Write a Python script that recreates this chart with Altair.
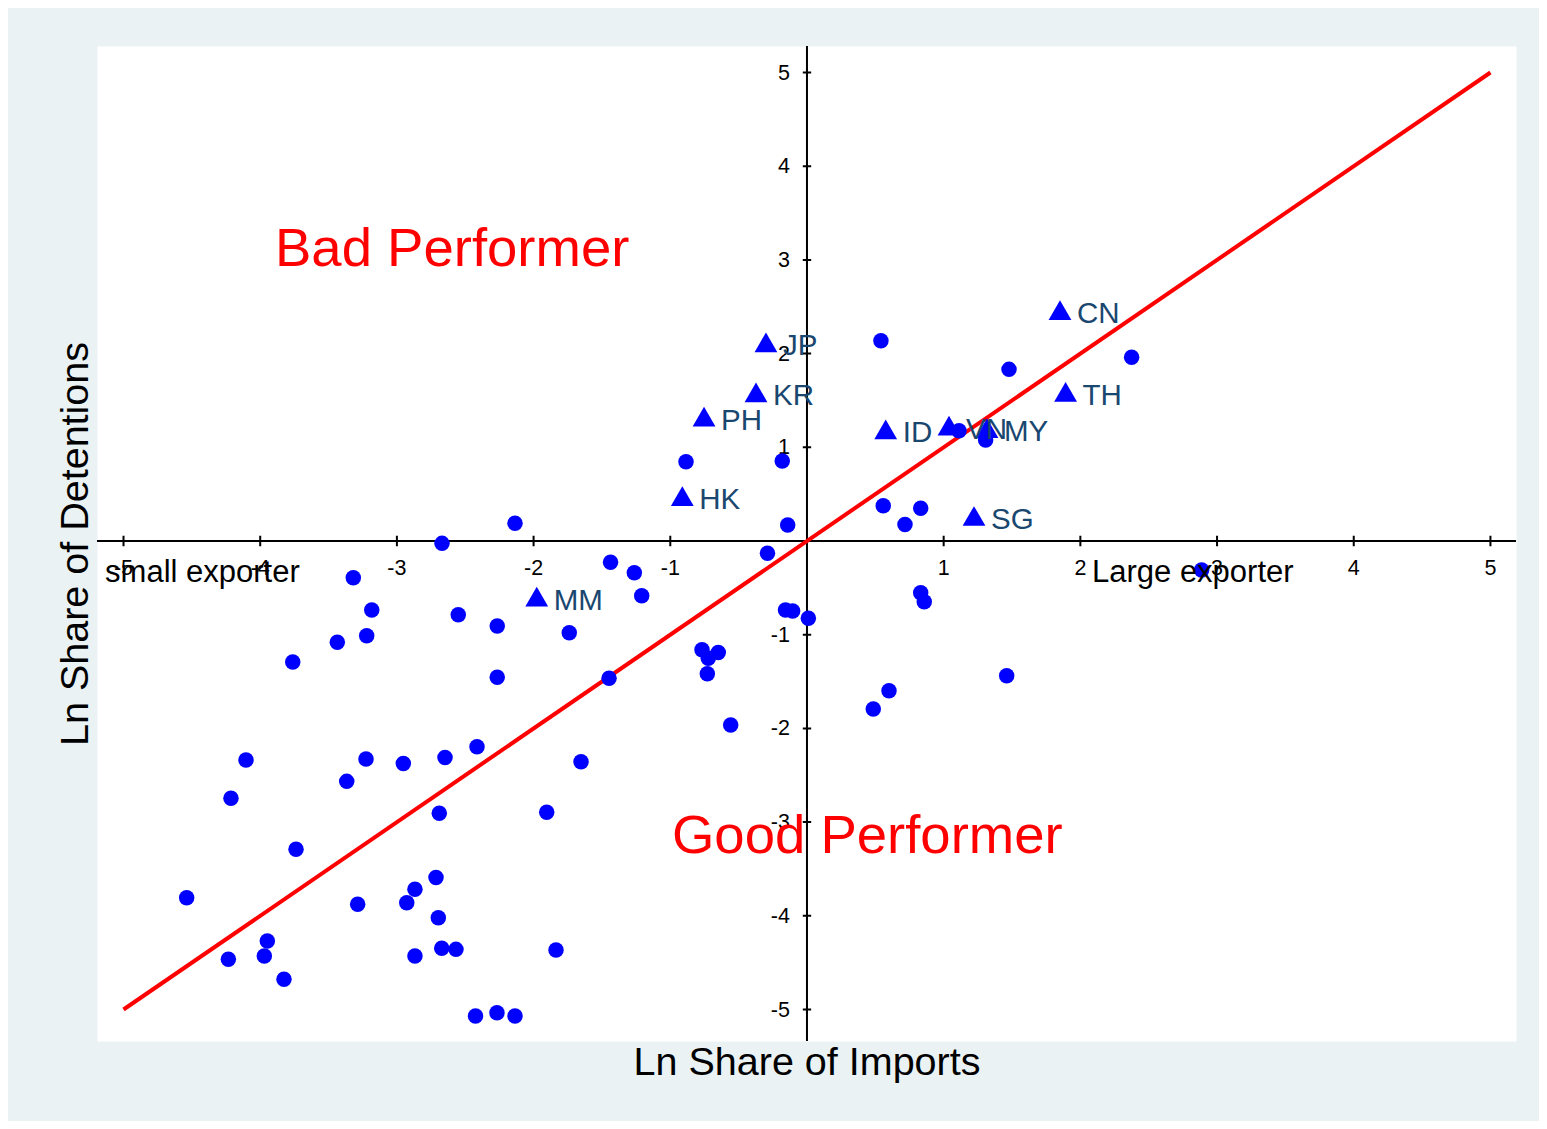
import altair as alt
import pandas as pd

# ---- data ----
circle_x = [-2.136, -2.670, -3.319, -3.184, -2.551, -2.266, -1.739, -3.436, -3.221, -3.762,
            -2.266, -0.885, -0.181, -0.141, -0.289, -1.437, -1.263, -1.209, 0.541, 1.478,
            2.375, 1.112, 1.307, 0.558, 0.832, 0.717, -0.157, -0.105, 0.010, 0.832,
            0.858, 1.461, 0.600, 0.485, 2.887, -1.448, -0.768, -0.649, -0.722, -0.729,
            -0.558, -2.414, -2.648, -2.953, -1.653, -2.690, -1.904, -2.714, -2.868, -2.928,
            -2.697, -2.868, -2.672, -2.568, -1.836, -2.425, -2.268, -2.136, -4.104, -4.214,
            -3.226, -3.367, -3.738, -4.538, -3.287, -3.948, -3.970, -4.233, -3.826]
circle_y = [0.189, -0.025, -0.392, -0.736, -0.787, -0.907, -0.979, -1.081, -1.011, -1.291,
            -1.455, 0.846, 0.854, 0.171, -0.131, -0.227, -0.338, -0.584, 2.138, 1.832,
            1.961, 1.177, 1.078, 0.377, 0.349, 0.176, -0.736, -0.747, -0.825, -0.552,
            -0.648, -1.438, -1.598, -1.793, -0.309, -1.465, -1.160, -1.190, -1.252, -1.416,
            -1.964, -2.195, -2.311, -2.375, -2.355, -2.906, -2.895, -3.591, -3.717, -3.860,
            -4.020, -4.429, -4.347, -4.358, -4.365, -5.069, -5.034, -5.069, -2.337, -2.746,
            -2.327, -2.565, -3.290, -3.807, -3.877, -4.269, -4.429, -4.464, -4.678]

country_codes = ["CN", "JP", "KR", "PH", "HK", "MM", "ID", "VN", "MY", "TH", "SG"]
country_x = [1.851, -0.300, -0.373, -0.753, -0.912, -1.977, 0.576, 1.039, 1.317, 1.892, 1.222]
country_y = [2.465, 2.121, 1.587, 1.327, 0.480, -0.594, 1.192, 1.231, 1.206, 1.593, 0.267]

x_ticks = [-5, -4, -3, -2, -1, 1, 2, 3, 4, 5]
y_ticks = [-5, -4, -3, -2, -1, 1, 2, 3, 4, 5]
diag_x = [-5, 5]
diag_y = [-5, 5]

FONT = "Liberation Sans"
xs = alt.Scale(domain=[-5.194, 5.187], nice=False, zero=False)
ys = alt.Scale(domain=[-5.336, 5.283], nice=False, zero=False)

AXX = alt.Axis(title="Ln Share of Imports", labels=False, ticks=False, domain=False, grid=False,
               titleFont=FONT, titleFontSize=39.5, titleFontWeight="normal", titleColor="black",
               titlePadding=33, titleBaseline="alphabetic")
AXY = alt.Axis(title="Ln Share of Detentions", labels=False, ticks=False, domain=False, grid=False,
               titleFont=FONT, titleFontSize=39.5, titleFontWeight="normal", titleColor="black",
               titlePadding=10, titleBaseline="alphabetic")

circles_df = pd.DataFrame({"x": circle_x, "y": circle_y})
tri_df = pd.DataFrame({"x": country_x, "y": country_y, "code": country_codes})
xt_df = pd.DataFrame({"x": x_ticks, "y": [0] * len(x_ticks), "lab": [str(v) for v in x_ticks]})
yt_df = pd.DataFrame({"x": [0] * len(y_ticks), "y": y_ticks, "lab": [str(v) for v in y_ticks]})
diag_df = pd.DataFrame({"x": diag_x, "y": diag_y})
zero_df = pd.DataFrame({"x": [0], "y": [0]})

X = alt.X("x:Q", scale=xs, axis=AXX)
Y = alt.Y("y:Q", scale=ys, axis=AXY)

xaxis_line = alt.Chart(zero_df).mark_rule(color="black", strokeWidth=2).encode(y=Y)
yaxis_line = alt.Chart(zero_df).mark_rule(color="black", strokeWidth=2).encode(x=X)

plus = "M-1,0L1,0M0,-1L0,1"
xticks = alt.Chart(xt_df).mark_point(shape=plus, filled=False, stroke="black",
                                     strokeWidth=2, size=110, opacity=1).encode(x=X, y=Y)
yticks = alt.Chart(yt_df).mark_point(shape=plus, filled=False, stroke="black",
                                     strokeWidth=2, size=70, opacity=1).encode(x=X, y=Y)
xlabels = alt.Chart(xt_df).mark_text(dy=28, align="center", baseline="middle", font=FONT,
                                     fontSize=21.5, color="black").encode(x=X, y=Y, text="lab:N")
ylabels = alt.Chart(yt_df).mark_text(dx=-17, dy=1, align="right", baseline="middle", font=FONT,
                                     fontSize=21.5, color="black").encode(x=X, y=Y, text="lab:N")

diag = alt.Chart(diag_df).mark_line(color="#ff0000", strokeWidth=4).encode(x=X, y=Y)

circles = alt.Chart(circles_df).mark_point(shape="circle", filled=True, color="#0000ff",
                                           size=240, opacity=1).encode(x=X, y=Y)
triangles = alt.Chart(tri_df).mark_point(shape="triangle-up", filled=True, color="#0000ff",
                                         size=520, opacity=1).encode(x=X, y=Y)
tri_labels = alt.Chart(tri_df).mark_text(dx=17, dy=4, align="left", baseline="middle", font=FONT,
                                         fontSize=29.5, color="#1a476f").encode(x=X, y=Y, text="code:N")


def note(txt, xv, yv, size, color):
    return alt.Chart(zero_df).mark_text(align="left", baseline="alphabetic", font=FONT,
                                        fontSize=size, color=color, text=txt).encode(
        x=alt.XDatum(xv, scale=xs, axis=AXX), y=alt.YDatum(yv, scale=ys, axis=AXY))


notes = [
    note("Bad Performer", -3.892, 2.935, 54.5, "#ff0000"),
    note("Good Performer", -0.988, -3.33, 54.5, "#ff0000"),
    note("small exporter", -5.135, -0.438, 31, "black"),
    note("Large exporter", 2.085, -0.438, 31, "black"),
]

chart = alt.layer(
    xaxis_line, yaxis_line, xticks, yticks, xlabels, ylabels, diag, circles, triangles,
    tri_labels, *notes
).properties(
    width=1419, height=995,
    autosize=alt.AutoSizeParams(type="none"),
    padding={"left": 89, "top": 38, "right": 23, "bottom": 80},
    background="#eaf2f3",
).configure_view(fill="white", stroke="transparent")

chart.save("out.html", embed_options={"renderer": "svg", "actions": False})
